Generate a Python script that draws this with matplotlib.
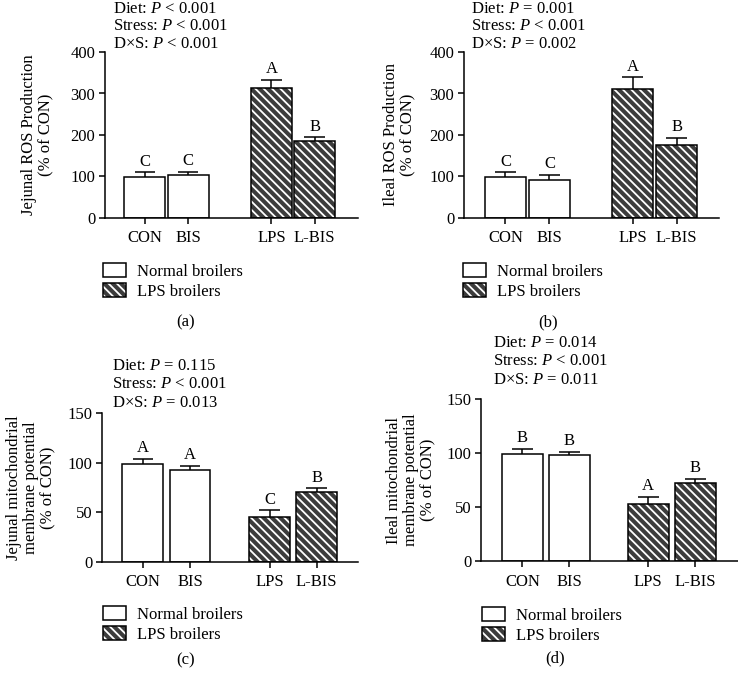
import matplotlib
matplotlib.use("Agg")
import matplotlib.pyplot as plt
from matplotlib.patches import Patch
from matplotlib.legend_handler import HandlerTuple
import numpy as np

plt.rcParams['font.family'] = ['Liberation Serif', 'DejaVu Serif']
plt.rcParams['mathtext.fontset'] = 'custom'
plt.rcParams['mathtext.rm'] = 'Liberation Serif'
plt.rcParams['mathtext.it'] = 'Liberation Serif:italic'
plt.rcParams['hatch.linewidth'] = 1.3

categories = ["CON", "BIS", "LPS", "L-BIS"]

jej_ros = [98, 104, 314, 185]
jej_ros_err = [12, 8, 18, 9]
jej_ros_letters = ["C", "C", "A", "B"]

ile_ros = [98, 92, 311, 176]
ile_ros_err = [12, 12, 28, 17]
ile_ros_letters = ["C", "C", "A", "B"]

jej_mmp = [99, 93, 45, 70]
jej_mmp_err = [5, 4, 7, 4]
jej_mmp_letters = ["A", "A", "C", "B"]

ile_mmp = [99, 98, 53, 72]
ile_mmp_err = [5, 3, 6.5, 4]
ile_mmp_letters = ["B", "B", "A", "B"]

stats_a = ["Diet: $P$ < 0.001", "Stress: $P$ < 0.001", "D×S: $P$ < 0.001"]
stats_b = ["Diet: $P$ = 0.001", "Stress: $P$ < 0.001", "D×S: $P$ = 0.002"]
stats_c = ["Diet: $P$ = 0.115", "Stress: $P$ < 0.001", "D×S: $P$ = 0.013"]
stats_d = ["Diet: $P$ = 0.014", "Stress: $P$ < 0.001", "D×S: $P$ = 0.011"]

legend_labels = ["Normal broilers", "LPS broilers"]

W, H = 738, 674
fig = plt.figure(figsize=(W / 100, H / 100), dpi=100)

FS = 12
DARK = '#3c3c3c'
HATCH = '\\\\\\\\'


def px_axes(l, r, t, b):
    return fig.add_axes([l / W, 1 - b / H, (r - l) / W, (b - t) / H])


def panel(box, gap, width, xlim, vals, errs, letters, ylim, yticks, ylabel,
          stats, stats_xy, leg_xy, tag, tag_xy, ylabel_x, stats_step=18.5):
    ax = px_axes(*box)
    pos = np.array([0, 1, 1 + gap, 2 + gap])
    vals = np.array(vals, float)
    errs = np.array(errs, float)
    normal = [0, 1]
    lps = [2, 3]
    ax.bar(pos[normal], vals[normal], width=width, facecolor='white',
           edgecolor='black', linewidth=1.1, zorder=2)
    ax.bar(pos[lps], vals[lps], width=width, facecolor=DARK,
           edgecolor='white', hatch=HATCH, linewidth=0, zorder=2)
    ax.bar(pos[lps], vals[lps], width=width, facecolor='none',
           edgecolor='black', linewidth=1.1, zorder=3)
    cap = width * 0.25
    ax.vlines(pos, vals, vals + errs, color='black', linewidth=1.1, zorder=1)
    ax.hlines(vals + errs, pos - cap, pos + cap, color='black', linewidth=1.1, zorder=1)
    for p, v, e, s in zip(pos, vals, errs, letters):
        ax.annotate(s, (p, v + e), xytext=(0, 2), textcoords='offset points',
                    ha='center', va='bottom', fontsize=FS)
    ax.set_xlim(*xlim)
    ax.set_ylim(*ylim)
    ax.set_yticks(yticks)
    ax.set_xticks(pos)
    ax.set_xticklabels(categories)
    ax.tick_params(axis='both', labelsize=FS, width=1.1, length=4, direction='out')
    ax.tick_params(axis='x', pad=5)
    ax.tick_params(axis='y', pad=3)
    for s in ['top', 'right']:
        ax.spines[s].set_visible(False)
    for s in ['left', 'bottom']:
        ax.spines[s].set_linewidth(1.1)
    ax.set_ylabel(ylabel, fontsize=FS, linespacing=1.1)
    ax.yaxis.set_label_coords((ylabel_x - box[0]) / (box[1] - box[0]), 0.5)
    # stats text
    for i, line in enumerate(stats):
        fig.text(stats_xy[0] / W, 1 - (stats_xy[1] + i * stats_step) / H, line,
                 fontsize=FS, ha='left', va='center')
    # legend
    h1 = Patch(facecolor='white', edgecolor='black', linewidth=1.1)
    h2a = Patch(facecolor=DARK, edgecolor='white', hatch=HATCH, linewidth=0)
    h2b = Patch(facecolor='none', edgecolor='black', linewidth=1.1)
    fig.legend([h1, (h2a, h2b)], legend_labels,
               handler_map={tuple: HandlerTuple(ndivide=1, pad=0)},
               loc='upper left', bbox_to_anchor=(leg_xy[0] / W, 1 - leg_xy[1] / H),
               frameon=False, fontsize=FS, handlelength=1.4, handleheight=0.9,
               handletextpad=0.65, labelspacing=0.2, borderpad=0, borderaxespad=0)
    fig.text(tag_xy[0] / W, 1 - tag_xy[1] / H, tag, fontsize=FS,
             ha='center', va='center')
    return ax


panel((105, 358, 52, 218), 1.92, 0.95, (-0.92, 4.92), jej_ros, jej_ros_err,
      jej_ros_letters, (0, 400), [0, 100, 200, 300, 400],
      "Jejunal ROS Production\n(% of CON)", stats_a, (113, 9), (103, 263),
      "(a)", (186, 322), 54, stats_step=17.5)

panel((464, 719, 52, 218), 1.89, 0.93, (-0.94, 4.85), ile_ros, ile_ros_err,
      ile_ros_letters, (0, 400), [0, 100, 200, 300, 400],
      "Ileal ROS Production\n(% of CON)", stats_b, (471, 9), (463, 263),
      "(b)", (548, 322), 416, stats_step=17.5)

panel((102, 358, 413, 562), 1.69, 0.87, (-0.87, 4.57), jej_mmp, jej_mmp_err,
      jej_mmp_letters, (0, 150), [0, 50, 100, 150],
      "Jejunal mitochondrial\nmembrane potential\n(% of CON)", stats_c, (112, 366),
      (103, 606), "(c)", (186, 660), 56)

panel((481, 738, 399, 561), 1.68, 0.88, (-0.88, 4.59), ile_mmp, ile_mmp_err,
      ile_mmp_letters, (0, 150), [0, 50, 100, 150],
      "Ileal mitochondrial\nmembrane potential\n(% of CON)", stats_d, (493, 343),
      (482, 607), "(d)", (555, 658), 436)

fig.savefig("out.png", dpi=100)
